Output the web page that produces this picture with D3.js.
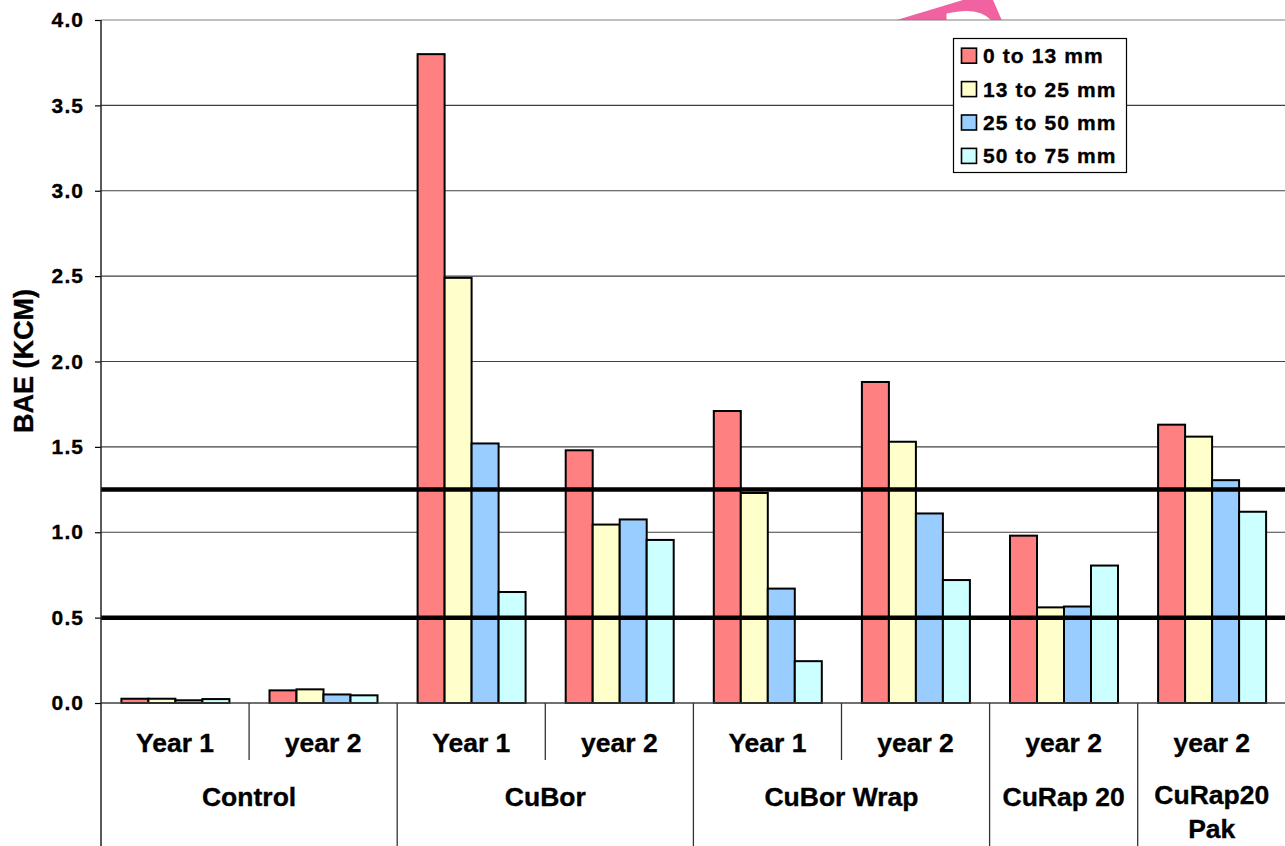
<!DOCTYPE html>
<html><head><meta charset="utf-8">
<script src="https://cdn.jsdelivr.net/npm/d3@7"></script>
<style>
html,body{margin:0;padding:0;background:#fff;overflow:hidden}
text{font-family:"Liberation Sans",Arial,sans-serif;font-weight:bold;fill:#000;stroke:#000;stroke-width:0.35px}
</style></head><body>
<svg id="c" width="1285" height="846"></svg>
<script>
const subLabels = ["Year 1","year 2","Year 1","year 2","Year 1","year 2","year 2","year 2"];
const groupLabels = [["Control"],["CuBor"],["CuBor Wrap"],["CuRap 20"],["CuRap20","Pak"]];
const groupSpans = [2,2,2,1,1];
const seriesNames = ["0 to 13 mm","13 to 25 mm","25 to 50 mm","50 to 75 mm"];
const seriesColors = ["#FF8080","#FFFFCC","#99CCFF","#CCFFFF"];
const s0 = [0.025,0.074,3.80,1.48,1.71,1.88,0.98,1.63];
const s1 = [0.025,0.08,2.49,1.045,1.23,1.53,0.56,1.56];
const s2 = [0.016,0.05,1.52,1.075,0.67,1.11,0.565,1.305];
const s3 = [0.023,0.045,0.65,0.955,0.245,0.72,0.805,1.12];
const refLines = [1.25,0.5];
const yTicks = [0,0.5,1,1.5,2,2.5,3,3.5,4];
const series = [s0,s1,s2,s3];

(function(){
const svg = d3.select("#c");
const pL = 101, bw = 148.1, pT = 20, base = 703, H = 846, W = 1285;
const y = d3.scaleLinear().domain([0,4]).range([base, pT]);
const x = d3.scaleBand().domain(d3.range(subLabels.length)).range([pL, pL + bw*subLabels.length]).padding(0);
const xi = d3.scaleBand().domain(d3.range(series.length)).range([20.4, 128.4]).padding(0);

// decorative pink shape at top
svg.append("path").attr("d","M896.7,20 L963,0 L993,0 L1001.7,20 Z").attr("fill","#F062A0");
svg.append("path").attr("d","M946.5,20 L946.5,13.5 Q978,6 991,20 Z").attr("fill","#fff");

// plot background
svg.append("rect").attr("x",pL).attr("y",pT).attr("width",W-pL).attr("height",base-pT).attr("fill","#fff");

// gridlines
svg.append("g").selectAll("line").data(yTicks.filter(d=>d>0)).join("line")
  .attr("x1",pL).attr("x2",W).attr("y1",d=>y(d)).attr("y2",d=>y(d))
  .attr("stroke",(d)=>d===4?"#808080":"#404040").attr("stroke-width",1.2);

// bars
const g = svg.append("g");
series.forEach((s,si)=>{
  g.append("g").selectAll("rect").data(s).join("rect")
    .attr("x",(d,i)=>x(i)+xi(si))
    .attr("y",d=>y(d))
    .attr("width",xi.bandwidth())
    .attr("height",d=>base-y(d))
    .attr("fill",seriesColors[si]).attr("stroke","#000").attr("stroke-width",2);
});

// reference lines
svg.append("g").selectAll("line").data(refLines).join("line")
  .attr("x1",pL).attr("x2",W).attr("y1",d=>y(d)).attr("y2",d=>y(d))
  .attr("stroke","#000").attr("stroke-width",4.5);

// x baseline
svg.append("line").attr("x1",pL).attr("x2",W).attr("y1",base).attr("y2",base).attr("stroke","#404040").attr("stroke-width",1.5);

// y axis
const ya = svg.append("g").attr("transform",`translate(${pL},0)`)
  .call(d3.axisLeft(y).tickValues(yTicks).tickFormat(d3.format(".1f")).tickSize(6).tickPadding(12));
ya.select(".domain").remove();
ya.selectAll(".tick line").attr("stroke","#000").attr("stroke-width",1.2);
ya.selectAll(".tick text").attr("font-size",21).attr("letter-spacing","1.1px").attr("dx","1.1px")
  .style("font-family","'Liberation Sans',Arial,sans-serif").style("font-weight","bold").attr("fill","#000");
svg.append("line").attr("x1",pL).attr("x2",pL).attr("y1",pT).attr("y2",H).attr("stroke","#222").attr("stroke-width",1.5);

// category separators
let idx = 0; const groupBounds = [];
groupSpans.forEach(n=>{ groupBounds.push([idx, idx+n]); idx+=n; });
const innerSeps = [];
groupBounds.forEach(([a,b])=>{ for(let k=a+1;k<b;k++) innerSeps.push(k); });
svg.append("g").selectAll("line").data(innerSeps).join("line")
  .attr("x1",d=>x(d)).attr("x2",d=>x(d)).attr("y1",base).attr("y2",760)
  .attr("stroke","#333").attr("stroke-width",1.3);
svg.append("g").selectAll("line").data(groupBounds.slice(1).map(d=>d[0])).join("line")
  .attr("x1",d=>x(d)).attr("x2",d=>x(d)).attr("y1",base).attr("y2",H)
  .attr("stroke","#333").attr("stroke-width",1.3);

// sub labels
svg.append("g").selectAll("text").data(subLabels).join("text")
  .attr("x",(d,i)=>x(i)+bw/2).attr("y",752).attr("text-anchor","middle").attr("font-size",26.5).text(d=>d);

// group labels
groupBounds.forEach(([a,b],gi)=>{
  const cx = (x(a) + x(b-1) + bw)/2;
  const lines = groupLabels[gi];
  const y0 = lines.length===1 ? 806 : 804;
  lines.forEach((t,li)=>{
    svg.append("text").attr("x",cx).attr("y",y0+li*34).attr("text-anchor","middle").attr("font-size",26.5).text(t);
  });
});

// y axis title
svg.append("text").attr("transform","translate(33,361) rotate(-90)").attr("text-anchor","middle")
  .attr("font-size",27).text("BAE (KCM)");

// legend
const lg = svg.append("g");
lg.append("rect").attr("x",953.5).attr("y",38.5).attr("width",173).attr("height",134).attr("fill","#fff").attr("stroke","#000").attr("stroke-width",1.2);
const ly = d3.scaleBand().domain(d3.range(seriesNames.length)).range([39,172.6]);
seriesNames.forEach((n,i)=>{
  const cy = ly(i)+ly.bandwidth()/2;
  lg.append("rect").attr("x",961.5).attr("y",cy-7.5).attr("width",15).attr("height",15)
    .attr("fill",seriesColors[i]).attr("stroke","#000").attr("stroke-width",1.6);
  lg.append("text").attr("x",983).attr("y",cy+7.5).attr("font-size",21).attr("letter-spacing","1.1px").text(n);
});
})();
</script></body></html>
